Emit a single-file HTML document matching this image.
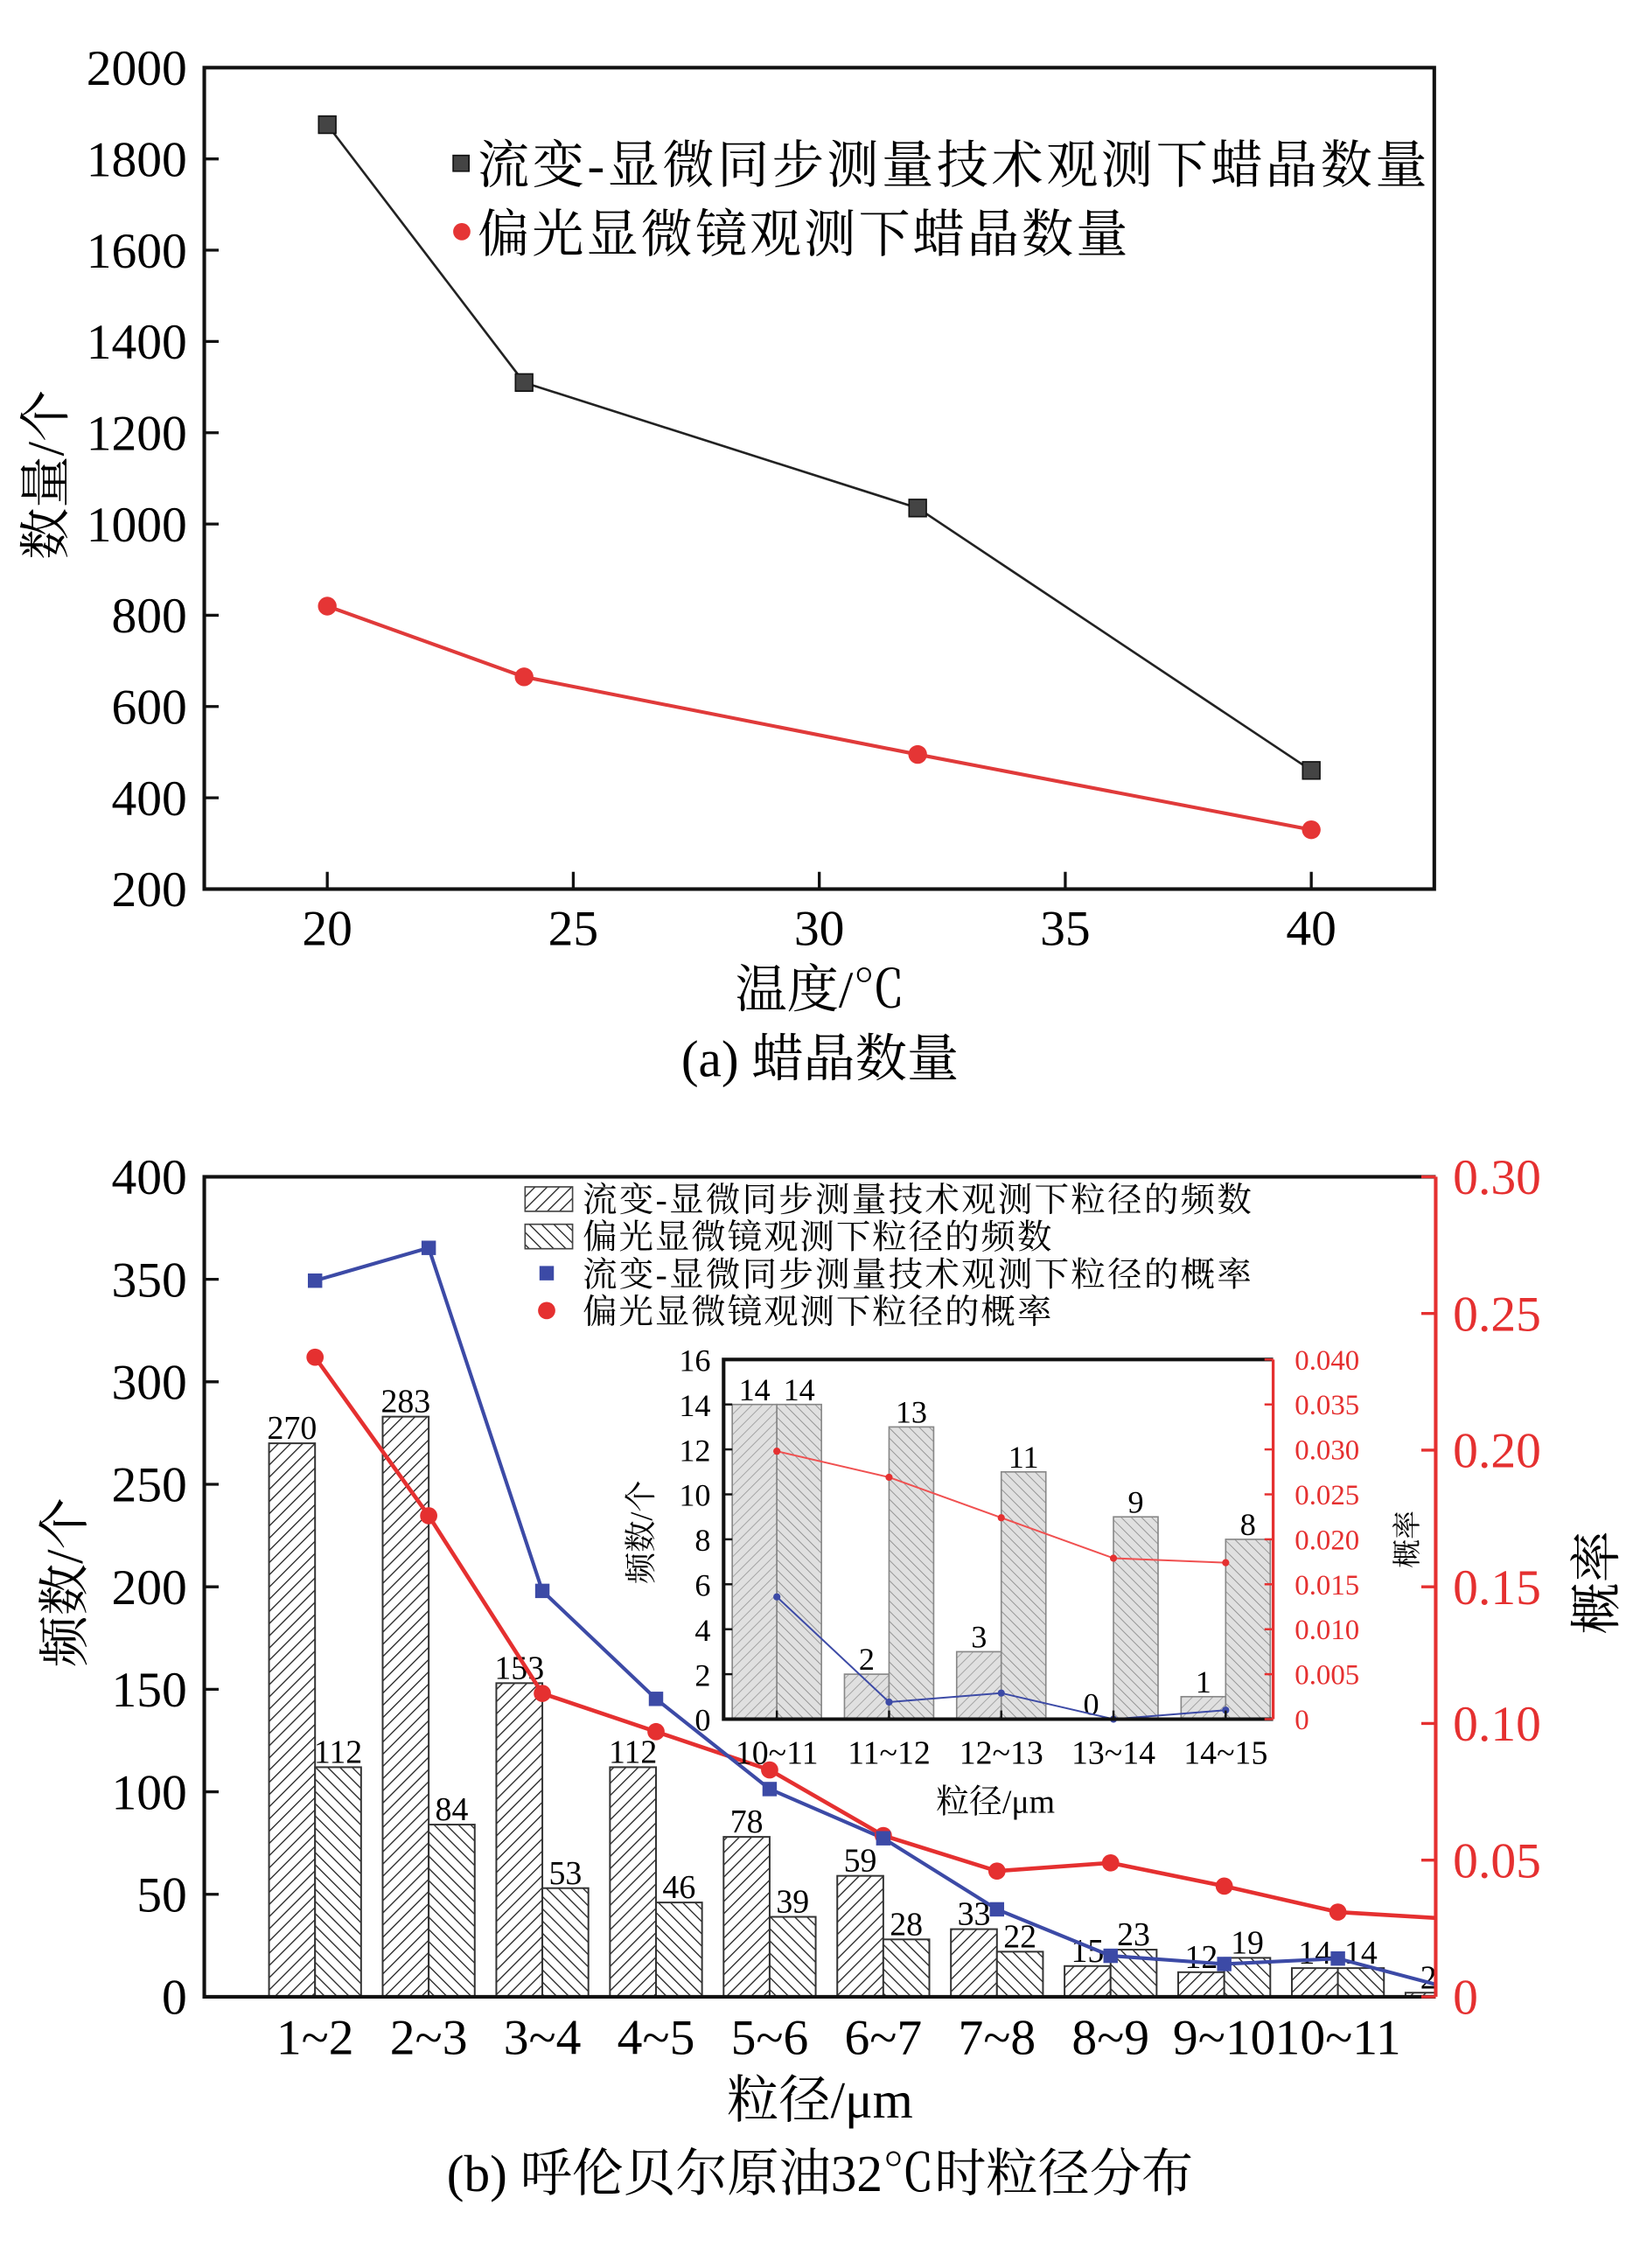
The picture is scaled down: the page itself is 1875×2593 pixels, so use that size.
<!DOCTYPE html>
<html><head><meta charset="utf-8"><style>
html,body{margin:0;padding:0;background:#fff;}
svg{display:block;}
text{font-family:"Liberation Serif","Noto Serif CJK SC",serif;}
</style></head><body>
<svg id="fig" xmlns="http://www.w3.org/2000/svg" width="1875" height="2593" viewBox="0 0 1140 1576.5">
<defs>
<pattern id="hatchA" patternUnits="userSpaceOnUse" width="6" height="6" patternTransform="rotate(45)"><rect width="6" height="6" fill="#fff"/><line x1="0" y1="0" x2="0" y2="6" stroke="#222" stroke-width="1.6"/></pattern>
<pattern id="hatchB" patternUnits="userSpaceOnUse" width="6" height="6" patternTransform="rotate(-45)"><rect width="6" height="6" fill="#fff"/><line x1="0" y1="0" x2="0" y2="6" stroke="#222" stroke-width="1.6"/></pattern>
<pattern id="hatchC" patternUnits="userSpaceOnUse" width="5" height="5" patternTransform="rotate(45)"><rect width="5" height="5" fill="#e0e0e0"/><line x1="0" y1="0" x2="0" y2="5" stroke="#999" stroke-width="1"/></pattern>
<pattern id="hatchD" patternUnits="userSpaceOnUse" width="5" height="5" patternTransform="rotate(-45)"><rect width="5" height="5" fill="#e0e0e0"/><line x1="0" y1="0" x2="0" y2="5" stroke="#888" stroke-width="1"/></pattern>
<clipPath id="clipB"><rect x="142" y="818" width="856" height="572"/></clipPath>
</defs>
<g id="gA"></g>
<g id="gB"></g>
<g id="gI"></g>
</svg>
<script>
// ---- chart (a) data ----
const aTemps=[20,24,32,40];
const aRheo=[1875,1310,1035,460];
const aPolar=[820,665,495,330];
const aYTicks=[200,400,600,800,1000,1200,1400,1600,1800,2000];
const aXTicks=[20,25,30,35,40];
// ---- chart (b) data ----
const bCats=['1~2','2~3','3~4','4~5','5~6','6~7','7~8','8~9','9~10','10~11','11~12'];
const bTickLabels=['1~2','2~3','3~4','4~5','5~6','6~7','7~8','8~9','9~10','10~11'];
const bFreqRheo=[270,283,153,112,78,59,33,15,12,14,2];
const bFreqPolar=[112,84,53,46,39,28,22,23,19,14,0];
const bProbRheo=[0.262,0.274,0.1485,0.109,0.076,0.058,0.032,0.015,0.012,0.014,0.003];
const bProbPolar=[0.234,0.176,0.111,0.097,0.083,0.059,0.046,0.049,0.0405,0.031,0.0285];
const bLeftTicks=[0,50,100,150,200,250,300,350,400];
const bRightTicks=['0','0.05','0.10','0.15','0.20','0.25','0.30'];
// ---- inset data ----
const iCats=['10~11','11~12','12~13','13~14','14~15'];
const iFreqRheo=[14,2,3,0,1];
const iFreqPolar=[14,13,11,9,8];
const iProbRheo=[0.0136,0.0019,0.0029,0,0.001];
const iProbPolar=[0.0298,0.0269,0.0224,0.0179,0.0174];
const iLeftTicks=[0,2,4,6,8,10,12,14,16];
const iRightTicks=['0','0.005','0.010','0.015','0.020','0.025','0.030','0.035','0.040'];

const NS='http://www.w3.org/2000/svg';
function mk(parent,tag,attrs,txt){const e=document.createElementNS(NS,tag);for(const k in attrs)e.setAttribute(k,attrs[k]);if(txt!==undefined)e.textContent=txt;parent.appendChild(e);return e;}
const gA=document.getElementById('gA'),gB=document.getElementById('gB'),gI=document.getElementById('gI');

// ===== Chart A =====
const xa=v=>142+(v-17.5)/25*855;
const ya=v=>618-(v-200)/1800*571;
let e;
e=mk(gA,'rect',{x:142,y:47,width:855,height:571,fill:'none',stroke:'#111','stroke-width':2.5});


aYTicks.forEach(t=>{
 e=mk(gA,'line',{x1:142,x2:152,y1:ya(t),y2:ya(t),stroke:'#111','stroke-width':2});
 
 
 e=mk(gA,'text',{x:130,y:ya(t)+12,'font-size':35,'text-anchor':'end'},t);
 
 
});
aXTicks.forEach(t=>{
 e=mk(gA,'line',{x1:xa(t),x2:xa(t),y1:618,y2:606,stroke:'#111','stroke-width':2});
 
 
 e=mk(gA,'text',{x:xa(t),y:657,'font-size':35,'text-anchor':'middle'},t);
 
 
});
e=mk(gA,'polyline',{points:aTemps.map((t,i)=>xa(t)+','+ya(aRheo[i])).join(' '),fill:'none',stroke:'#222','stroke-width':1.6});


e=mk(gA,'polyline',{points:aTemps.map((t,i)=>xa(t)+','+ya(aPolar[i])).join(' '),fill:'none',stroke:'#e03a3a','stroke-width':2.5});


aTemps.forEach((t,i)=>{
 e=mk(gA,'rect',{x:xa(t)-6,y:ya(aRheo[i])-6,width:12,height:12,fill:'#444',stroke:'#111','stroke-width':1});
 
 
 e=mk(gA,'circle',{cx:xa(t),cy:ya(aPolar[i]),r:6.5,fill:'#e53535'});
 
 
});
e=mk(gA,'rect',{x:315,y:108,width:11,height:11,fill:'#444',stroke:'#111'});


e=mk(gA,'text',{x:332,y:127,'font-size':36,'textLength':660},'流变-显微同步测量技术观测下蜡晶数量');


e=mk(gA,'circle',{cx:321,cy:161,r:6,fill:'#e53535'});


e=mk(gA,'text',{x:332,y:175,'font-size':36,'textLength':452},'偏光显微镜观测下蜡晶数量');


e=mk(gA,'text',{x:0,y:0,'font-size':36,'text-anchor':'middle',transform:'translate(44,330) rotate(-90)'},'数量/个');


e=mk(gA,'text',{x:570,y:700,'font-size':36,'text-anchor':'middle'},'温度/℃');


e=mk(gA,'text',{x:570,y:748,'font-size':36,'text-anchor':'middle'},'(a) 蜡晶数量');



// ===== Chart B =====
const xb=i=>219+79*i;
const yb=v=>1388-v/400*570;
const yr=p=>1388-p/0.30*570;
const bw=32;
const clip=mk(gB,'g',{'clip-path':'url(#clipB)'});
bCats.forEach((c,i)=>{
 e=mk(clip,'rect',{x:xb(i)-bw,y:yb(bFreqRheo[i]),width:bw,height:1388-yb(bFreqRheo[i]),fill:'url(#hatchA)',stroke:'#333','stroke-width':1.2});
 
 
 e=mk(clip,'text',{x:xb(i)-bw/2,y:yb(bFreqRheo[i])-3,'font-size':23,'text-anchor':'middle'},bFreqRheo[i]);
 
 
 if(bFreqPolar[i]>0){
 e=mk(clip,'rect',{x:xb(i),y:yb(bFreqPolar[i]),width:bw,height:1388-yb(bFreqPolar[i]),fill:'url(#hatchB)',stroke:'#333','stroke-width':1.2});
 
 
 e=mk(clip,'text',{x:xb(i)+bw/2,y:yb(bFreqPolar[i])-3,'font-size':23,'text-anchor':'middle'},bFreqPolar[i]);
 
 
 }
});
e=mk(clip,'polyline',{points:bCats.map((c,i)=>xb(i)+','+yr(bProbPolar[i])).join(' '),fill:'none',stroke:'#e53030','stroke-width':2.8});


e=mk(clip,'polyline',{points:bCats.map((c,i)=>xb(i)+','+yr(bProbRheo[i])).join(' '),fill:'none',stroke:'#3c4aa6','stroke-width':2.5});


bCats.forEach((c,i)=>{
 e=mk(clip,'circle',{cx:xb(i),cy:yr(bProbPolar[i]),r:6,fill:'#e53030'});
 
 
 e=mk(clip,'rect',{x:xb(i)-5,y:yr(bProbRheo[i])-5,width:10,height:10,fill:'#3c4aa6'});
 
 
});
e=mk(gB,'path',{d:'M998,818 H142 V1388 H998',fill:'none',stroke:'#111','stroke-width':2.5});


e=mk(gB,'line',{x1:998,x2:998,y1:818,y2:1388,stroke:'#e53030','stroke-width':2.5});


bLeftTicks.forEach(t=>{
 e=mk(gB,'line',{x1:142,x2:152,y1:yb(t),y2:yb(t),stroke:'#111','stroke-width':2});
 
 
 e=mk(gB,'text',{x:130,y:yb(t)+12,'font-size':35,'text-anchor':'end'},t);
 
 
});
bRightTicks.forEach(t=>{
 const p=parseFloat(t);
 e=mk(gB,'line',{x1:988,x2:998,y1:yr(p),y2:yr(p),stroke:'#e53030','stroke-width':2});
 
 
 e=mk(gB,'text',{x:1010,y:yr(p)+12,'font-size':35,fill:'#e53030'},t);
 
 
});
bTickLabels.forEach((t,i)=>{
 e=mk(gB,'text',{x:xb(i),y:1428,'font-size':35,'text-anchor':'middle'},t);
 
 
});
const legB=[['url(#hatchA)','流变-显微同步测量技术观测下粒径的频数',465],['url(#hatchB)','偏光显微镜观测下粒径的频数',326],['blue','流变-显微同步测量技术观测下粒径的概率',465],['red','偏光显微镜观测下粒径的概率',326]];
legB.forEach((l,k)=>{
 const yy=833+k*26;
 if(k<2){e=mk(gB,'rect',{x:365,y:yy-8,width:33,height:17,fill:l[0],stroke:'#444'});}
 else if(k==2){e=mk(gB,'rect',{x:375,y:yy-5,width:10,height:10,fill:'#3c4aa6'});}
 else {e=mk(gB,'circle',{cx:380,cy:yy,r:6,fill:'#e53030'});}
 
 
 e=mk(gB,'text',{x:405,y:yy+9,'font-size':24,textLength:l[2]},l[1]);
 
 
});
e=mk(gB,'text',{x:0,y:0,'font-size':36,'text-anchor':'middle',transform:'translate(57,1100) rotate(-90)'},'频数/个');


e=mk(gB,'text',{x:0,y:0,'font-size':36,'text-anchor':'middle',transform:'translate(1122,1100) rotate(-90)'},'概率');


e=mk(gB,'text',{x:570,y:1472,'font-size':36,'text-anchor':'middle'},'粒径/μm');


e=mk(gB,'text',{x:570,y:1523,'font-size':36,'text-anchor':'middle'},'(b) 呼伦贝尔原油32℃时粒径分布');



// ===== Inset =====
const xi=i=>540+78*i;
const yi=v=>1195-v/16*250;
const yri=p=>1195-p/0.04*250;
const iw=31;
e=mk(gI,'rect',{x:503,y:945,width:382,height:250,fill:'#fff'});


iCats.forEach((c,i)=>{
 if(iFreqRheo[i]>0){
 e=mk(gI,'rect',{x:xi(i)-iw,y:yi(iFreqRheo[i]),width:iw,height:1195-yi(iFreqRheo[i]),fill:'url(#hatchC)',stroke:'#888','stroke-width':1});
 
 
 }
 e=mk(gI,'text',{x:xi(i)-iw/2,y:yi(iFreqRheo[i])-3,'font-size':22,'text-anchor':'middle'},iFreqRheo[i]);
 
 
 e=mk(gI,'rect',{x:xi(i),y:yi(iFreqPolar[i]),width:iw,height:1195-yi(iFreqPolar[i]),fill:'url(#hatchD)',stroke:'#888','stroke-width':1});
 
 
 e=mk(gI,'text',{x:xi(i)+iw/2,y:yi(iFreqPolar[i])-3,'font-size':22,'text-anchor':'middle'},iFreqPolar[i]);
 
 
});
e=mk(gI,'polyline',{points:iCats.map((c,i)=>xi(i)+','+yri(iProbPolar[i])).join(' '),fill:'none',stroke:'#f05050','stroke-width':1.2});


e=mk(gI,'polyline',{points:iCats.map((c,i)=>xi(i)+','+yri(iProbRheo[i])).join(' '),fill:'none',stroke:'#3c4aa6','stroke-width':1.2});


iCats.forEach((c,i)=>{
 e=mk(gI,'circle',{cx:xi(i),cy:yri(iProbPolar[i]),r:2.5,fill:'#e53030'});
 
 
 e=mk(gI,'circle',{cx:xi(i),cy:yri(iProbRheo[i]),r:2.5,fill:'#3c4aa6'});
 
 
 e=mk(gI,'line',{x1:xi(i),x2:xi(i),y1:1195,y2:1189,stroke:'#111','stroke-width':1.5});
 
 
 e=mk(gI,'text',{x:xi(i),y:1226,'font-size':23,'text-anchor':'middle'},c);
 
 
});
e=mk(gI,'path',{d:'M885,945 H503 V1195 H885',fill:'none',stroke:'#111','stroke-width':2.5});


e=mk(gI,'line',{x1:885,x2:885,y1:945,y2:1195,stroke:'#e53030','stroke-width':2});


iLeftTicks.forEach(t=>{
 e=mk(gI,'line',{x1:503,x2:509,y1:yi(t),y2:yi(t),stroke:'#111','stroke-width':1.5});
 
 
 e=mk(gI,'text',{x:494,y:yi(t)+8,'font-size':22,'text-anchor':'end'},t);
 
 
});
iRightTicks.forEach(t=>{
 const p=parseFloat(t);
 e=mk(gI,'line',{x1:879,x2:885,y1:yri(p),y2:yri(p),stroke:'#e53030','stroke-width':1.5});
 
 
 e=mk(gI,'text',{x:900,y:yri(p)+7,'font-size':20,fill:'#e53030'},t);
 
 
});
e=mk(gI,'text',{x:0,y:0,'font-size':22,'text-anchor':'middle',transform:'translate(453,1065) rotate(-90)'},'频数/个');


e=mk(gI,'text',{x:0,y:0,'font-size':20,'text-anchor':'middle',transform:'translate(985,1070) rotate(-90)'},'概率');


e=mk(gI,'text',{x:692,y:1260,'font-size':23,'text-anchor':'middle'},'粒径/μm');


</script>
</body></html>
